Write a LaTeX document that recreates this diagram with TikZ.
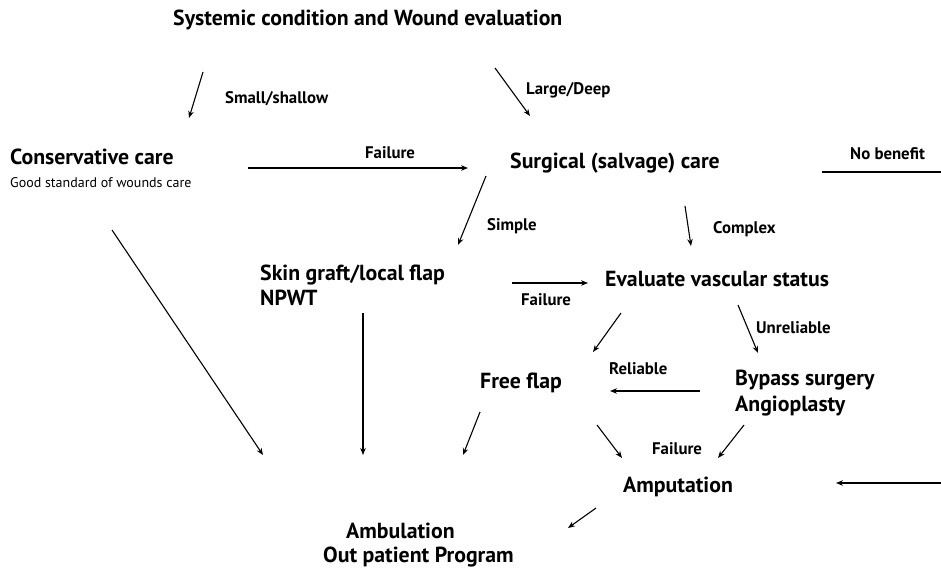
\documentclass[tikz,border=0pt]{standalone}
\usepackage{fontspec}
\setmainfont{PT Sans}
\usetikzlibrary{arrows.meta}
\begin{document}
\begin{tikzpicture}[x=1pt,y=-1pt,
  big/.style={anchor=base west,inner sep=0pt,font=\fontsize{21.8}{25}\selectfont\bfseries},
  lbl/.style={anchor=base west,inner sep=0pt,font=\fontsize{16.8}{20}\selectfont\bfseries},
  arr/.style={line width=1.1pt,-{Stealth[length=7pt,width=5.5pt]}}]
\useasboundingbox (0,0) rectangle (941,568);
% nodes
\node[big] (sys) at (173,25) {Systemic condition and Wound evaluation};
\node[big] (cons) at (10,164) {Conservative care};
\node[anchor=base west,inner sep=0pt,font=\fontsize{14}{16}\selectfont] (good) at (10,187) {Good standard of wounds care};
\node[big] (surg) at (510,168) {Surgical (salvage) care};
\node[big] (skin) at (260,280) {Skin graft/local flap};
\node[big] (npwt) at (260,305) {NPWT};
\node[big] (eval) at (605,286) {Evaluate vascular status};
\node[big] (free) at (480,388) {Free flap};
\node[big] (bypass) at (735,385) {Bypass surgery};
\node[big] (angio) at (735,411) {Angioplasty};
\node[big] (amp) at (623,492) {Amputation};
\node[big] (amb) at (346,538) {Ambulation};
\node[big] (opp) at (323,562) {Out patient Program};
% labels
\node[lbl] (l1) at (225,103) {Small/shallow};
\node[lbl] (l2) at (526,94) {Large/Deep};
\node[lbl] (l3) at (365,158) {Failure};
\node[lbl] (l4) at (850,159) {No benefit};
\node[lbl] (l5) at (487,230) {Simple};
\node[lbl] (l6) at (713,233) {Complex};
\node[lbl] (l7) at (521,305) {Failure};
\node[lbl] (l8) at (756,333) {Unreliable};
\node[lbl] (l9) at (609,374) {Reliable};
\node[lbl] (l10) at (652,454) {Failure};
% connector end points
\coordinate (a1s) at (203,72); \coordinate (a1e) at (189,118);
\coordinate (a2s) at (495,68); \coordinate (a2e) at (530,116);
\coordinate (a3s) at (248,168); \coordinate (a3e) at (468,168);
\coordinate (nbs) at (822,172); \coordinate (nbe) at (941,172);
\coordinate (a4s) at (486,176); \coordinate (a4e) at (458,245);
\coordinate (a5s) at (685,206); \coordinate (a5e) at (691,246);
\coordinate (a6s) at (512,283); \coordinate (a6e) at (588,283);
\coordinate (a7s) at (621,313); \coordinate (a7e) at (593,352);
\coordinate (a8s) at (738,305); \coordinate (a8e) at (758,353);
\coordinate (a9s) at (700,391); \coordinate (a9e) at (610,391);
\coordinate (a10s) at (112,230); \coordinate (a10e) at (263,455);
\coordinate (a11s) at (363,313); \coordinate (a11e) at (363,455);
\coordinate (a12s) at (480,412); \coordinate (a12e) at (463,455);
\coordinate (a13s) at (597,425); \coordinate (a13e) at (622,458);
\coordinate (a14s) at (744,425); \coordinate (a14e) at (718,458);
\coordinate (a15s) at (941,483); \coordinate (a15e) at (836,483);
\coordinate (a16s) at (596,508); \coordinate (a16e) at (568,528);
% connectors
\draw[arr] (a1s) -- (a1e);
\draw[arr] (a2s) -- (a2e);
\draw[arr] (a3s) -- (a3e);
\draw[line width=1.1pt] (nbs) -- (nbe);
\draw[arr] (a4s) -- (a4e);
\draw[arr] (a5s) -- (a5e);
\draw[arr] (a6s) -- (a6e);
\draw[arr] (a7s) -- (a7e);
\draw[arr] (a8s) -- (a8e);
\draw[arr] (a9s) -- (a9e);
\draw[arr] (a10s) -- (a10e);
\draw[arr] (a11s) -- (a11e);
\draw[arr] (a12s) -- (a12e);
\draw[arr] (a13s) -- (a13e);
\draw[arr] (a14s) -- (a14e);
\draw[arr] (a15s) -- (a15e);
\draw[arr] (a16s) -- (a16e);
\end{tikzpicture}
\end{document}
